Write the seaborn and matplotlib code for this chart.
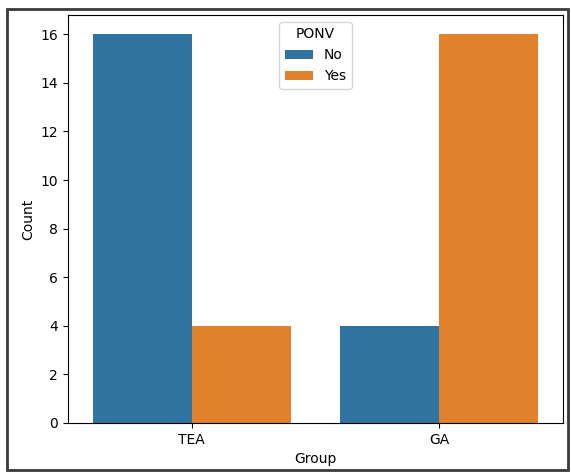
import pandas as pd
import seaborn as sns
import matplotlib.pyplot as plt
from matplotlib.patches import Rectangle

groups = ['TEA', 'GA']
ponv = ['No', 'Yes']
counts = {'TEA': [16, 4], 'GA': [4, 16]}

rows = []
for g in groups:
    for p, n in zip(ponv, counts[g]):
        rows += [{'Group': g, 'PONV': p}] * n
df = pd.DataFrame(rows)

fig = plt.figure(figsize=(5.71, 4.74), dpi=100)
ax = fig.add_axes([0.119, 0.1076, 0.867, 0.861])
sns.countplot(data=df, x='Group', hue='PONV', order=groups, hue_order=ponv, ax=ax)
ax.set_ylabel('Count')
ax.set_xlabel('Group')
sns.move_legend(ax, 'upper center')

# screenshot frame
fig.patches.append(Rectangle((0.0123, 0.0084), 0.982, 0.9726, transform=fig.transFigure,
                             fill=False, edgecolor='#3a3a3a', linewidth=2))

fig.savefig('out.png', dpi=100)
